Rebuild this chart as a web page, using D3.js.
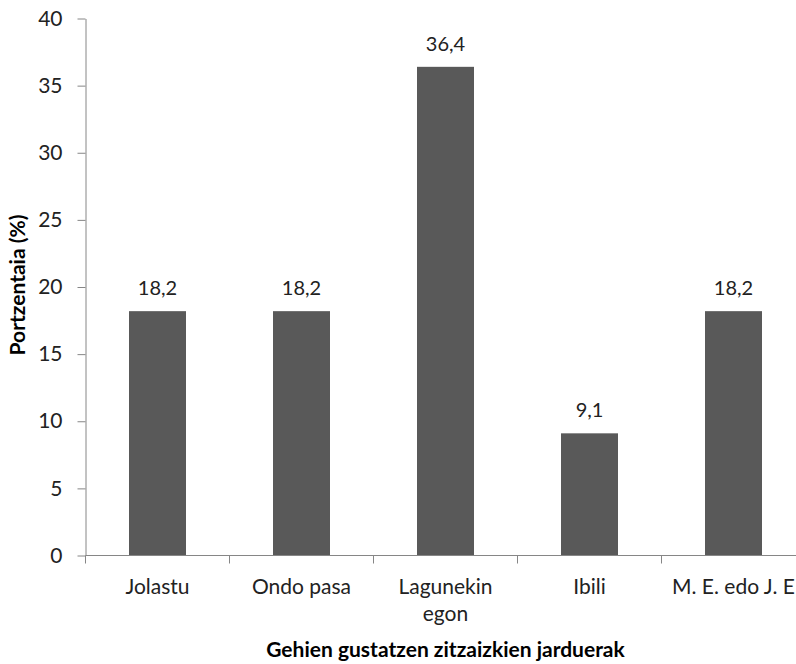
<!DOCTYPE html>
<html>
<head>
<meta charset="utf-8">
<script src="https://cdn.jsdelivr.net/npm/d3@7"></script>
<style>
  body { margin: 0; background: #fff; }
  svg { display: block; font-family: Lato, "Open Sans", sans-serif; }
  .tick text { fill: #222; }
  .value { font-size: 20px; fill: #222; text-anchor: middle; }
  .title { font-size: 21px; font-weight: bold; fill: #000; text-anchor: middle; }
</style>
</head>
<body>
<svg width="796" height="664"></svg>
<script>
// chart data
const categories = ['Jolastu', 'Ondo pasa', 'Lagunekin\negon', 'Ibili', 'M. E. edo J. E'];
const values = [18.2, 18.2, 36.4, 9.1, 18.2];
const valueLabels = ['18,2', '18,2', '36,4', '9,1', '18,2'];
const yTicks = [0, 5, 10, 15, 20, 25, 30, 35, 40];

let svg = d3.select('svg');
let plotLeft = 85.5;
let plotRight = 805.5;
let plotTop = 18.5;
let plotBottom = 555.5;
let barWidth = 57;
let axisColor = '#868686';

let slot = d3.scaleBand().domain(categories).range([plotLeft, plotRight]);
let yScale = d3.scaleLinear().domain([0, 40]).range([plotBottom, plotTop]);

// bars
svg.append('g').selectAll('rect').data(values).enter().append('rect')
  .attr('x', function(d, i) { return slot(categories[i]) + (slot.bandwidth() - barWidth) / 2; })
  .attr('y', function(d) { return yScale(d); })
  .attr('width', barWidth)
  .attr('height', function(d) { return yScale(0) - yScale(d); })
  .attr('fill', '#595959');

// value labels
svg.append('g').selectAll('text').data(values).enter().append('text')
  .attr('class', 'value')
  .attr('x', function(d, i) { return slot(categories[i]) + slot.bandwidth() / 2; })
  .attr('y', function(d) { return yScale(d) - 16; })
  .text(function(d, i) { return valueLabels[i]; });

// y axis
let yAxis = svg.append('g')
  .attr('transform', 'translate(' + plotLeft + ',0)')
  .call(d3.axisLeft(yScale).tickValues(yTicks).tickSize(8).tickSizeOuter(0).tickPadding(15));
yAxis.selectAll('line, path').attr('stroke', axisColor);
yAxis.selectAll('text').style('font-size', '21px').style('font-family', 'Lato');

// x axis line and tick marks between categories
svg.append('line')
  .attr('x1', plotLeft).attr('x2', plotRight).attr('y1', plotBottom).attr('y2', plotBottom)
  .attr('stroke', axisColor);
let bounds = categories.map(function(c) { return slot(c); }).concat([plotRight]);
svg.append('g').selectAll('line').data(bounds).enter().append('line')
  .attr('x1', function(d) { return d; }).attr('x2', function(d) { return d; })
  .attr('y1', plotBottom).attr('y2', plotBottom + 8)
  .attr('stroke', axisColor);

// category labels
let xLabels = svg.append('g').attr('transform', 'translate(0,' + plotBottom + ')')
  .call(d3.axisBottom(slot).tickSize(0).tickPadding(0));
xLabels.select('.domain').remove();
xLabels.selectAll('text').each(function(d) {
  let t = d3.select(this);
  let lines = d.split('\n');
  t.text(null).attr('y', 38).attr('dy', null).style('font-size', '21px').style('font-family', 'Lato');
  lines.forEach(function(line, i) {
    t.append('tspan').attr('x', 0).attr('y', 38 + i * 27).text(line);
  });
});

// axis titles
svg.append('text')
  .attr('class', 'title')
  .attr('transform', 'translate(' + ((plotLeft + plotRight) / 2) + ',657)')
  .text('Gehien gustatzen zitzaizkien jarduerak');
svg.append('text')
  .attr('class', 'title')
  .attr('transform', 'translate(25,285) rotate(-90)')
  .text('Portzentaia (%)');
</script>
</body>
</html>
